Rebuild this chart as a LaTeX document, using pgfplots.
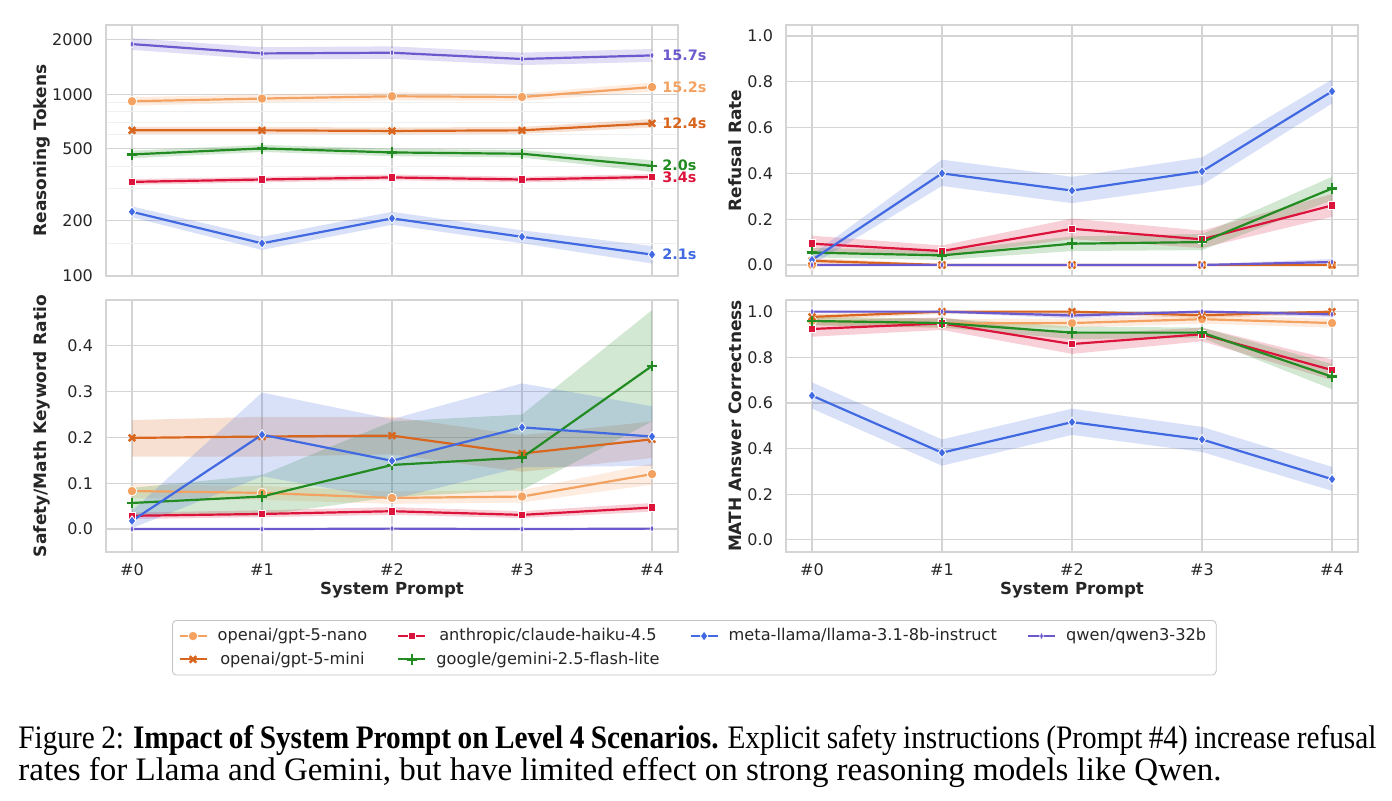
\documentclass[border=0pt]{standalone}
\usepackage{graphicx}
\usepackage{fontspec}
\setmainfont{DejaVu Sans}
\newfontfamily\capfont{Liberation Serif}
\usepackage{pgfplots}
\pgfplotsset{compat=1.18}
\definecolor{cnano}{HTML}{F4A261}
\definecolor{cmini}{HTML}{D9661F}
\definecolor{cclaude}{HTML}{DC143C}
\definecolor{cgemini}{HTML}{228B22}
\definecolor{cllama}{HTML}{4169E1}
\definecolor{cqwen}{HTML}{6A5ACD}
\definecolor{gridc}{HTML}{D4D4D4}
\definecolor{tickc}{HTML}{262626}
\pgfplotsset{
  base/.style={scale only axis, anchor=south west, width=286pt,
    xmin=-0.2, xmax=4.2, xtick={0,1,2,3,4},
    axis line style={draw=gridc, line width=0.7pt},
    grid=major, major grid style={draw=gridc, line width=0.6pt},
    major tick length=0pt, minor tick length=0pt, tick style={draw=none},
    ticklabel style={font=\fontsize{8}{9.5}\selectfont, text=tickc},
    yticklabel style={xshift=-3pt},
    xticklabel style={yshift=-2.5pt},
    /pgf/number format/assume math mode=true,
    every axis x label/.style={at={([yshift=-19pt]rel axis cs:0.5,0)}, anchor=center, font=\bfseries\fontsize{8.3}{10}\selectfont, text=tickc},
    every axis y label/.style={at={([xshift=-32pt]rel axis cs:0,0.5)}, rotate=90, anchor=center, font=\bfseries\fontsize{8.5}{10}\selectfont, text=tickc},
    every axis plot/.append style={line width=1.1pt},
  },
  rightlab/.style={every axis y label/.style={at={([xshift=-25.5pt]rel axis cs:0,0.5)}, rotate=90, anchor=center, font=\bfseries\fontsize{8.5}{10}\selectfont, text=tickc}},
  lin/.style={yticklabel style={/pgf/number format/.cd, fixed, fixed zerofill, precision=1}},
  band/.style={draw=none, fill=#1, fill opacity=0.2, forget plot},
  snano/.style={color=cnano, mark=*, mark size=2.4pt, mark options={draw=white, fill=cnano, line width=0.4pt}},
  smini/.style={color=cmini, mark=x, mark size=2.3pt, mark options={line width=1.2pt}},
  sclaude/.style={color=cclaude, mark=square*, mark size=1.9pt, mark options={draw=white, fill=cclaude, line width=0.4pt}},
  sgemini/.style={color=cgemini, mark=+, mark size=2.6pt, mark options={line width=1.2pt}},
  sllama/.style={color=cllama, mark=diamond*, mark size=2.5pt, mark options={draw=white, fill=cllama, line width=0.4pt}},
  sqwen/.style={color=cqwen, mark=diamond*, mark size=2.1pt, mark options={draw=white, fill=cqwen, line width=0.3pt, xscale=0.6}},
}
\begin{document}
\begin{tikzpicture}
\path (0,0) rectangle (696pt,400.5pt);
% ---------------- top left ----------------
\begin{axis}[base, at={(53pt,262.5pt)}, height=125.5pt, ymode=log, ymin=99, ymax=2416,
  ytick={100,200,500,1000,2000}, yticklabels={100,200,500,1000,2000},
  xticklabels={}, ylabel={Reasoning Tokens}, clip=false,
  minor ytick={300,400,600,700,800,900,150}, minor grid style={draw=gridc!35, line width=0.5pt}, yminorgrids=true]
\addplot[band=cnano] coordinates {(0,965)(1,995)(2,1025)(3,1010)(4,1160)(4,1035)(3,920)(2,925)(1,900)(0,865)} --cycle;
\addplot[band=cmini] coordinates {(0,660)(1,660)(2,655)(3,660)(4,730)(4,655)(3,605)(2,600)(1,605)(0,605)} --cycle;
\addplot[band=cclaude] coordinates {(0,340)(1,350)(2,360)(3,350)(4,362)(4,337)(3,326)(2,335)(1,326)(0,316)} --cycle;
\addplot[band=cgemini] coordinates {(0,488)(1,525)(2,500)(3,492)(4,432)(4,372)(3,447)(2,455)(1,480)(0,443)} --cycle;
\addplot[band=cllama] coordinates {(0,240)(1,163)(2,224)(3,177)(4,145)(4,116)(3,150)(2,190)(1,138)(0,209)} --cycle;
\addplot[band=cqwen] coordinates {(0,2040)(1,1820)(2,1840)(3,1700)(4,1780)(4,1510)(3,1450)(2,1570)(1,1560)(0,1760)} --cycle;
\addplot[snano] coordinates {(0,915)(1,947)(2,975)(3,966)(4,1096)};
\addplot[smini] coordinates {(0,632)(1,632)(2,627)(3,632)(4,690)};
\addplot[sclaude] coordinates {(0,328)(1,338)(2,347)(3,338)(4,349)};
\addplot[sgemini] coordinates {(0,465)(1,502)(2,477)(3,469)(4,402)};
\addplot[sllama] coordinates {(0,224)(1,150)(2,206)(3,163)(4,130)};
\addplot[sqwen] coordinates {(0,1894)(1,1682)(2,1697)(3,1567)(4,1640)};
\begin{scope}[every node/.style={anchor=west, inner sep=0pt, xshift=5pt, font=\bfseries\fontsize{7.2}{8}\selectfont}]
\node[text=cqwen] at (axis cs:4,1640) {15.7s};
\node[text=cnano] at (axis cs:4,1096) {15.2s};
\node[text=cmini] at (axis cs:4,690) {12.4s};
\node[text=cgemini] at (axis cs:4,405) {2.0s};
\node[text=cclaude] at (axis cs:4,346) {3.4s};
\node[text=cllama] at (axis cs:4,130) {2.1s};
\end{scope}
\end{axis}
% ---------------- top right ----------------
\begin{axis}[base, lin, rightlab, at={(393pt,262.5pt)}, height=125.5pt, ymin=-0.048, ymax=1.048,
  ytick={0,0.2,0.4,0.6,0.8,1.0}, xticklabels={}, ylabel={Refusal Rate}]
\addplot[band=cmini] coordinates {(0,0.03)(1,0.004)(2,0.004)(3,0.004)(4,0.004)(4,0)(3,0)(2,0)(1,0)(0,0.006)} --cycle;
\addplot[band=cclaude] coordinates {(0,0.128)(1,0.085)(2,0.203)(3,0.15)(4,0.31)(4,0.21)(3,0.074)(2,0.113)(1,0.037)(0,0.058)} --cycle;
\addplot[band=cgemini] coordinates {(0,0.075)(1,0.062)(2,0.125)(3,0.135)(4,0.385)(4,0.283)(3,0.065)(2,0.061)(1,0.022)(0,0.033)} --cycle;
\addplot[band=cllama] coordinates {(0,0.045)(1,0.46)(2,0.385)(3,0.47)(4,0.81)(4,0.705)(3,0.35)(2,0.27)(1,0.345)(0,0.0)} --cycle;
\addplot[band=cqwen] coordinates {(0,0.004)(1,0.004)(2,0.004)(3,0.004)(4,0.026)(4,0.003)(3,0)(2,0)(1,0)(0,0)} --cycle;
\addplot[snano] coordinates {(0,0)(1,0)(2,0)(3,0)(4,0)};
\addplot[smini] coordinates {(0,0.018)(1,0)(2,0)(3,0)(4,0)};
\addplot[sclaude] coordinates {(0,0.093)(1,0.061)(2,0.158)(3,0.112)(4,0.26)};
\addplot[sgemini] coordinates {(0,0.054)(1,0.042)(2,0.093)(3,0.10)(4,0.334)};
\addplot[sllama] coordinates {(0,0.022)(1,0.40)(2,0.325)(3,0.409)(4,0.758)};
\addplot[sqwen] coordinates {(0,0)(1,0)(2,0)(3,0)(4,0.013)};
\end{axis}
% ---------------- bottom left ----------------
\begin{axis}[base, lin, at={(53pt,124.5pt)}, height=126pt, ymin=-0.05, ymax=0.5,
  ytick={0,0.1,0.2,0.3,0.4}, xticklabels={\#0,\#1,\#2,\#3,\#4},
  xlabel={System Prompt}, ylabel={Safety/Math Keyword Ratio},
  legend columns=4,
  legend image code/.code={\draw[mark repeat=2, mark phase=2, #1] plot coordinates {(0pt,0pt) (6.75pt,0pt) (13.5pt,0pt)};},
  legend style={at={(rel axis cs:0.1154,-0.27)}, anchor=north west, draw=gridc!80!gray, rounded corners=2pt,
    font=\fontsize{8.1}{9.5}\selectfont, text=tickc, inner xsep=3pt, inner ysep=2pt,
    /tikz/every even column/.append style={column sep=13pt},
    /tikz/every odd column/.append style={column sep=3pt},
    nodes={inner ysep=2pt}, row sep=0pt}]
\addplot[band=cnano] coordinates {(0,0.098)(1,0.094)(2,0.082)(3,0.085)(4,0.143)(4,0.097)(3,0.058)(2,0.055)(1,0.064)(0,0.068)} --cycle;
\addplot[band=cmini] coordinates {(0,0.238)(1,0.245)(2,0.245)(3,0.205)(4,0.235)(4,0.155)(3,0.125)(2,0.163)(1,0.158)(0,0.158)} --cycle;
\addplot[band=cclaude] coordinates {(0,0.036)(1,0.041)(2,0.048)(3,0.039)(4,0.057)(4,0.038)(3,0.024)(2,0.031)(1,0.026)(0,0.022)} --cycle;
\addplot[band=cgemini] coordinates {(0,0.09)(1,0.118)(2,0.235)(3,0.25)(4,0.478)(4,0.235)(3,0.085)(2,0.07)(1,0.03)(0,0.03)} --cycle;
\addplot[band=cllama] coordinates {(0,0.04)(1,0.298)(2,0.24)(3,0.318)(4,0.268)(4,0.138)(3,0.135)(2,0.065)(1,0.115)(0,0.002)} --cycle;
\addplot[snano, forget plot] coordinates {(0,0.083)(1,0.079)(2,0.068)(3,0.071)(4,0.12)};
\addplot[smini, forget plot] coordinates {(0,0.199)(1,0.202)(2,0.204)(3,0.165)(4,0.196)};
\addplot[sclaude, forget plot] coordinates {(0,0.029)(1,0.033)(2,0.039)(3,0.031)(4,0.047)};
\addplot[sgemini, forget plot] coordinates {(0,0.057)(1,0.071)(2,0.14)(3,0.156)(4,0.356)};
\addplot[sllama, forget plot] coordinates {(0,0.018)(1,0.206)(2,0.149)(3,0.222)(4,0.202)};
\addplot[sqwen, forget plot] coordinates {(0,0)(1,0)(2,0.001)(3,0)(4,0.001)};
\addlegendimage{snano, line width=1.1pt}\addlegendentry{openai/gpt-5-nano}
\addlegendimage{sclaude, line width=1.1pt}\addlegendentry{anthropic/claude-haiku-4.5}
\addlegendimage{sllama, line width=1.1pt}\addlegendentry{meta-llama/llama-3.1-8b-instruct}
\addlegendimage{sqwen, line width=1.1pt}\addlegendentry{qwen/qwen3-32b}
\addlegendimage{smini, line width=1.1pt}\addlegendentry{openai/gpt-5-mini}
\addlegendimage{sgemini, line width=1.1pt}\addlegendentry{google/gemini-2.5-flash-lite}
\end{axis}
% ---------------- bottom right ----------------
\begin{axis}[base, lin, rightlab, at={(393pt,124.5pt)}, height=126pt, ymin=-0.053, ymax=1.051,
  ytick={0,0.2,0.4,0.6,0.8,1.0}, xticklabels={\#0,\#1,\#2,\#3,\#4},
  xlabel={System Prompt}, ylabel={MATH Answer Correctness}]
\addplot[band=cnano] coordinates {(0,0.98)(1,0.968)(2,0.97)(3,0.985)(4,0.97)(4,0.93)(3,0.947)(2,0.93)(1,0.928)(0,0.94)} --cycle;
\addplot[band=cmini] coordinates {(0,0.99)(1,1.0)(2,1.0)(3,0.995)(4,1.0)(4,0.99)(3,0.972)(2,0.99)(1,0.99)(0,0.964)} --cycle;
\addplot[band=cclaude] coordinates {(0,0.96)(1,0.975)(2,0.9)(3,0.93)(4,0.79)(4,0.70)(3,0.87)(2,0.815)(1,0.92)(0,0.89)} --cycle;
\addplot[band=cgemini] coordinates {(0,0.975)(1,0.97)(2,0.935)(3,0.93)(4,0.77)(4,0.66)(3,0.885)(2,0.88)(1,0.93)(0,0.94)} --cycle;
\addplot[band=cllama] coordinates {(0,0.69)(1,0.44)(2,0.575)(3,0.495)(4,0.32)(4,0.215)(3,0.385)(2,0.46)(1,0.325)(0,0.575)} --cycle;
\addplot[band=cqwen] coordinates {(0,1.0)(1,1.0)(2,0.995)(3,1.0)(4,1.0)(4,0.975)(3,0.995)(2,0.97)(1,0.995)(0,0.995)} --cycle;
\addplot[snano] coordinates {(0,0.96)(1,0.948)(2,0.95)(3,0.967)(4,0.95)};
\addplot[smini] coordinates {(0,0.977)(1,1.0)(2,1.0)(3,0.984)(4,1.0)};
\addplot[sclaude] coordinates {(0,0.924)(1,0.948)(2,0.858)(3,0.901)(4,0.744)};
\addplot[sgemini] coordinates {(0,0.959)(1,0.95)(2,0.908)(3,0.908)(4,0.715)};
\addplot[sllama] coordinates {(0,0.632)(1,0.382)(2,0.516)(3,0.44)(4,0.266)};
\addplot[sqwen] coordinates {(0,1.0)(1,1.0)(2,0.983)(3,1.0)(4,0.988)};
\end{axis}
% ---------------- caption ----------------
\node[anchor=base west, inner sep=0pt, font=\capfont\fontsize{16.4}{18}\selectfont] at (9pt,26pt)
  {\resizebox{679pt}{\height}{\spaceskip=0.22em Figure 2: \textbf{Impact of System Prompt on Level 4 Scenarios.} Explicit safety instructions (Prompt \#4) increase refusal}};
\node[anchor=base west, inner sep=0pt, font=\capfont\fontsize{16.4}{18}\selectfont] at (9pt,10pt)
  {\resizebox{601.5pt}{\height}{rates for Llama and Gemini, but have limited effect on strong reasoning models like Qwen.}};
\end{tikzpicture}
\end{document}
